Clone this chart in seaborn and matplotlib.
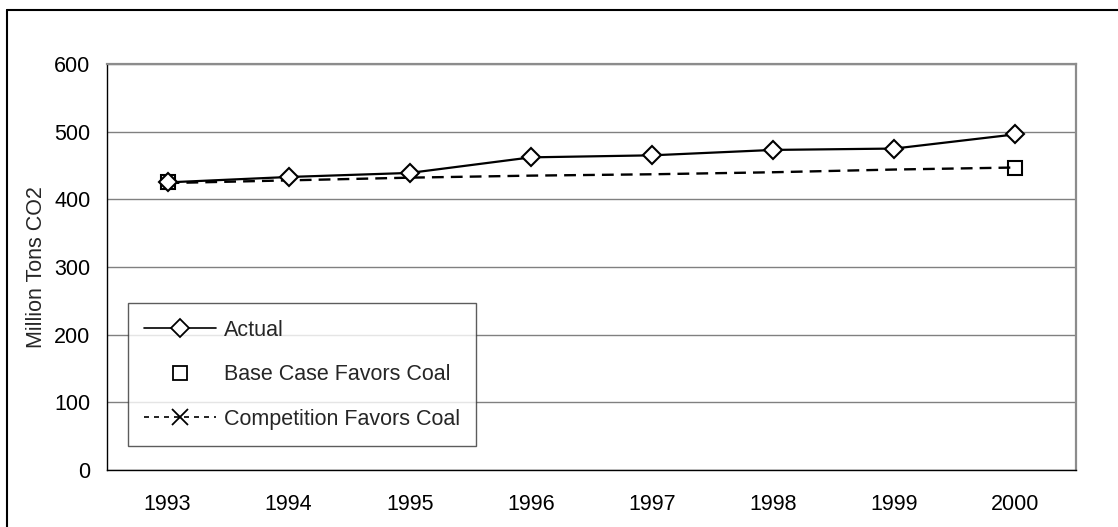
import matplotlib
matplotlib.use("Agg")
import seaborn as sns
import pandas as pd
import matplotlib.pyplot as plt
from matplotlib.lines import Line2D

# values
years = [1993, 1994, 1995, 1996, 1997, 1998, 1999, 2000]
actual = [425, 433, 439, 462, 465, 473, 475, 496]
competition = [424, 428, 432, 435, 437, 440, 444, 447]
base_years = [1993, 2000]
base_case = [426, 446]

sns.set_style("white")
plt.rcParams['font.family'] = ['Liberation Sans', 'DejaVu Sans']
FS = 15.5

df = pd.DataFrame({"Year": years, "Actual": actual, "Competition": competition})
base_df = pd.DataFrame({"Year": base_years, "Base": base_case})

fig, ax = plt.subplots(figsize=(11.18, 5.27), dpi=100)
fig.subplots_adjust(left=0.0957, right=0.9624, bottom=0.1082, top=0.8786)

sns.lineplot(data=df, x="Year", y="Competition", ax=ax, color="black", lw=1.7,
             linestyle=(0, (5, 3)), marker="x", markersize=10, markeredgewidth=1.3,
             markevery=[0, 7], zorder=3)
sns.lineplot(data=base_df, x="Year", y="Base", ax=ax, color="black", linestyle="none",
             marker="s", markersize=10, markerfacecolor="none", markeredgecolor="black",
             markeredgewidth=1.5, zorder=3)
sns.lineplot(data=df, x="Year", y="Actual", ax=ax, color="black", lw=1.6,
             marker="D", markersize=9, markerfacecolor="white", markeredgecolor="black",
             markeredgewidth=1.5, zorder=4)

ax.set_ylim(0, 600)
ax.set_yticks(range(0, 601, 100))
ax.set_xlim(1992.5, 2000.5)
ax.set_xticks(years)
ax.set_xticklabels([str(y) for y in years])
ax.set_xticks([y - 0.5 for y in years] + [2000.5], minor=True)
ax.tick_params(axis="x", which="major", length=0, pad=17, labelsize=FS, colors="black")
ax.tick_params(axis="x", which="minor", length=5, width=1, direction="out", color="black")
ax.tick_params(axis="y", length=5, width=1, direction="out", pad=7, labelsize=FS, colors="black")

ax.yaxis.grid(True, color="#808080", lw=1)
ax.xaxis.grid(False)
ax.set_xlabel("")
ax.set_ylabel("Million Tons CO2", fontsize=FS, labelpad=5)

for s in ["left", "bottom"]:
    ax.spines[s].set_color("black")
    ax.spines[s].set_linewidth(1)
for s in ["top", "right"]:
    ax.spines[s].set_color("#8c8c8c")
    ax.spines[s].set_linewidth(1.6)

handles = [
    Line2D([], [], color="black", lw=1.2, marker="D", markersize=9,
           markerfacecolor="white", markeredgecolor="black", markeredgewidth=1.3),
    Line2D([], [], color="black", linestyle="none", marker="s", markersize=10,
           markerfacecolor="none", markeredgecolor="black", markeredgewidth=1.3),
    Line2D([], [], color="black", lw=1.2, linestyle=(0, (3, 3)), marker="x",
           markersize=11, markeredgewidth=1.3),
]
labels = ["Actual", "Base Case Favors Coal", "Competition Favors Coal"]
leg = ax.legend(handles, labels, loc="lower left", bbox_to_anchor=(0.0217, 0.059),
                borderaxespad=0, frameon=True, fancybox=False, fontsize=FS,
                handlelength=3.35, handletextpad=0.35, labelspacing=1.1, borderpad=0.75)
leg.get_frame().set_edgecolor("#333333")
leg.get_frame().set_linewidth(1)

# outer chart frame
fig.add_artist(Line2D([7 / 1118, 7 / 1118], [0, 1 - 10 / 527], transform=fig.transFigure,
                      color="black", lw=1.5))
fig.add_artist(Line2D([7 / 1118, 1], [1 - 10 / 527, 1 - 10 / 527], transform=fig.transFigure,
                      color="black", lw=1.5))

fig.savefig("out.png", dpi=100)
